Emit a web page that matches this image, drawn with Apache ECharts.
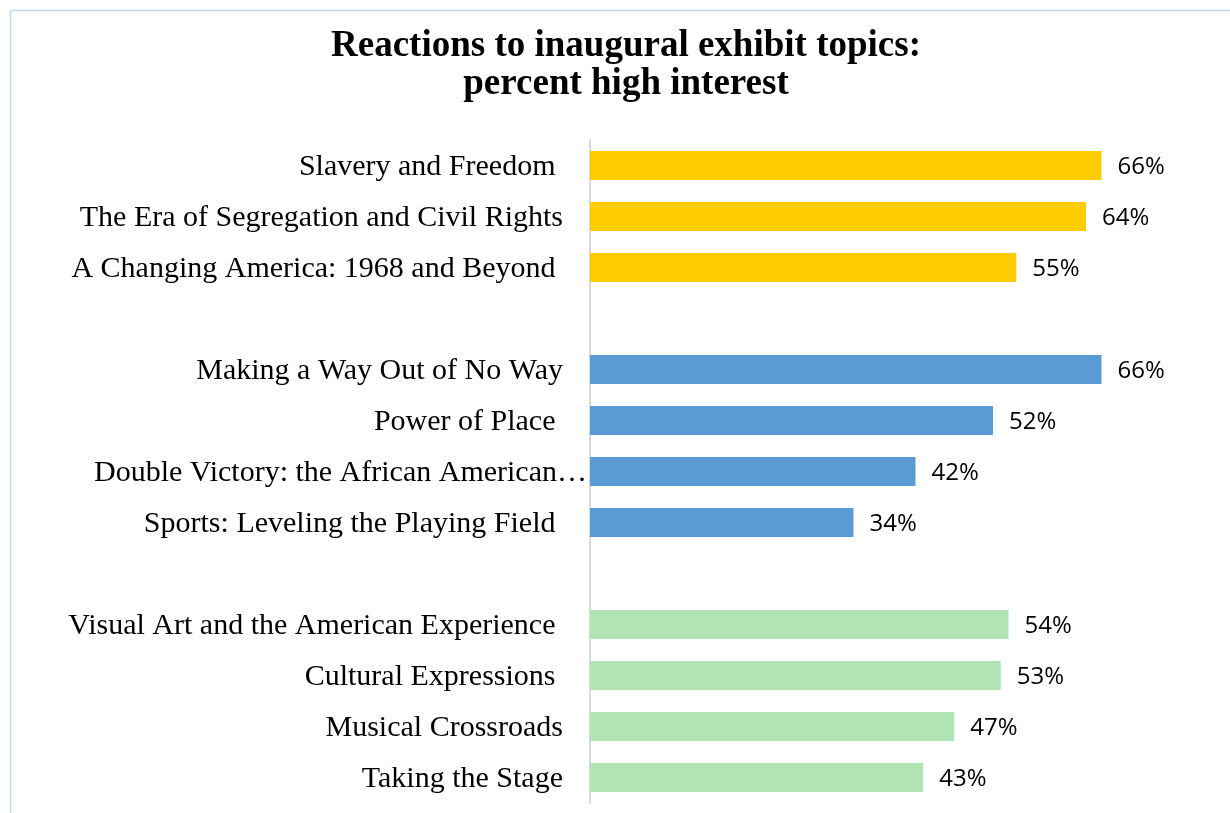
<!DOCTYPE html>
<html>
<head>
<meta charset="utf-8">
<title>Reactions to inaugural exhibit topics</title>
<script src="https://cdn.jsdelivr.net/npm/echarts@6/dist/echarts.min.js"></script>
<style>
  html, body { margin: 0; padding: 0; background: #ffffff; }
  #chart { width: 1230px; height: 813px; }
</style>
</head>
<body>
<div id="chart"></div>
<script>
// Exhibit topics, top to bottom; empty entries are spacer rows between galleries.
// Some names keep the trailing space they were typed with.
const categories = [
  'Slavery and Freedom ',
  'The Era of Segregation and Civil Rights',
  'A Changing America: 1968 and Beyond ',
  ' ',
  'Making a Way Out of No Way',
  'Power of Place ',
  'Double Victory: the African American…',
  'Sports: Leveling the Playing Field ',
  '  ',
  'Visual Art and the American Experience ',
  'Cultural Expressions ',
  'Musical Crossroads',
  'Taking the Stage'
];

// Percent of respondents with high interest (null = spacer row).
const percentHigh = [66, 64, 55, null, 66, 52, 42, 34, null, 54, 53, 47, 43];

// Gallery each topic belongs to (index into groupColors).
const topicGroup = [0, 0, 0, null, 1, 1, 1, 1, null, 2, 2, 2, 2];
const groupColors = ['#FFCC00', '#5B9BD5', '#B1E3B5'];

const TRUNCATED = 'Double Victory: the African American…';
const SERIF = '"Liberation Serif", "DejaVu Serif", serif';

const chart = echarts.init(document.getElementById('chart'));

chart.setOption({
  backgroundColor: '#ffffff',
  animation: false,
  title: {
    text: 'Reactions to inaugural exhibit topics:\npercent high interest',
    left: 621,
    top: 22,
    textAlign: 'center',
    textStyle: {
      fontFamily: SERIF,
      fontWeight: 'bold',
      fontSize: 37,
      lineHeight: 38,
      color: '#000000'
    }
  },
  graphic: [{
    type: 'rect',
    silent: true,
    z: -1,
    shape: { x: 10.5, y: 10.5, width: 1400, height: 1000 },
    style: { fill: 'none', stroke: '#BDD7EE', lineWidth: 1.5 }
  }],
  grid: {
    left: 590,
    top: 140,
    width: 620,
    height: 663,
    containLabel: false
  },
  xAxis: {
    type: 'value',
    min: 0,
    max: 80,
    show: false
  },
  yAxis: {
    type: 'category',
    inverse: true,
    data: categories,
    axisLine: { show: true, lineStyle: { color: '#D9D9D9', width: 2 } },
    axisTick: { show: false },
    splitLine: { show: false },
    axisLabel: {
      margin: 3,
      interval: 0,
      color: '#000000',
      fontFamily: SERIF,
      fontSize: 30,
      formatter: function (name) {
        return name === TRUNCATED ? '{t|' + name + '}' : '{n|' + name + '}';
      },
      rich: {
        n: {
          fontFamily: SERIF,
          fontSize: 30,
          color: '#000000',
          padding: [4, 24, 0, 0]
        },
        t: {
          fontFamily: SERIF,
          fontSize: 30,
          color: '#000000',
          padding: [4, 0, 0, 0]
        }
      }
    }
  },
  series: [{
    type: 'bar',
    barWidth: 29,
    data: percentHigh.map(function (v, i) {
      return v === null ? null : {
        value: v,
        itemStyle: { color: groupColors[topicGroup[i]] }
      };
    }),
    label: {
      show: true,
      position: 'right',
      distance: 16,
      offset: [0, 2],
      formatter: '{c}%',
      color: '#000000',
      fontFamily: '"Open Sans", "Noto Sans", sans-serif',
      fontSize: 24
    }
  }]
});
</script>
</body>
</html>
